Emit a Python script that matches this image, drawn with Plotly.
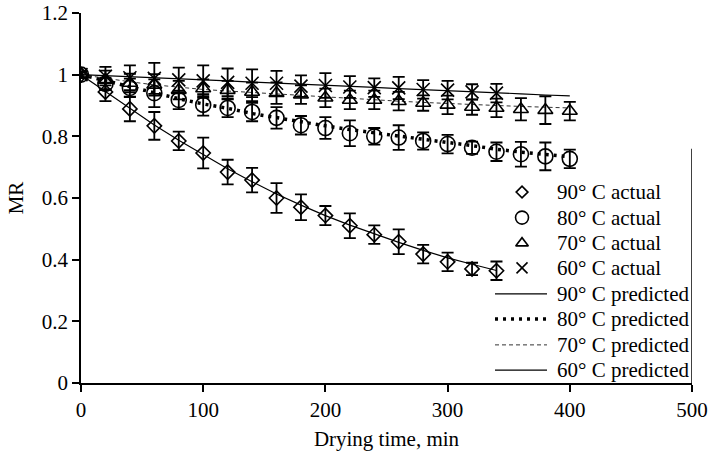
import plotly.graph_objects as go

# ---------------- data ----------------
t90 = [0, 20, 40, 60, 80, 100, 120, 140, 160, 180, 200, 220, 240, 260, 280, 300, 320, 340]
mr90 = [1.0, 0.944, 0.889, 0.834, 0.785, 0.746, 0.684, 0.658, 0.600, 0.570, 0.543, 0.510, 0.481, 0.458, 0.418, 0.393, 0.370, 0.364]
err90 = [0.01, 0.03, 0.04, 0.045, 0.03, 0.05, 0.04, 0.04, 0.048, 0.042, 0.031, 0.04, 0.03, 0.04, 0.03, 0.03, 0.02, 0.03]

t80 = [0, 20, 40, 60, 80, 100, 120, 140, 160, 180, 200, 220, 240, 260, 280, 300, 320, 340, 360, 380, 400]
mr80 = [1.0, 0.970, 0.957, 0.940, 0.918, 0.902, 0.892, 0.879, 0.860, 0.836, 0.827, 0.810, 0.800, 0.796, 0.785, 0.775, 0.763, 0.750, 0.742, 0.735, 0.727]
err80 = [0.01, 0.02, 0.03, 0.045, 0.03, 0.035, 0.03, 0.03, 0.035, 0.03, 0.035, 0.042, 0.027, 0.04, 0.028, 0.03, 0.02, 0.03, 0.04, 0.045, 0.03]

t70 = [0, 20, 40, 60, 80, 100, 120, 140, 160, 180, 200, 220, 240, 260, 280, 300, 320, 340, 360, 380, 400]
mr70 = [1.0, 0.983, 0.973, 0.967, 0.950, 0.955, 0.950, 0.944, 0.940, 0.935, 0.925, 0.918, 0.918, 0.914, 0.908, 0.902, 0.895, 0.892, 0.888, 0.885, 0.882]
err70 = [0.01, 0.03, 0.03, 0.035, 0.03, 0.03, 0.03, 0.03, 0.035, 0.03, 0.03, 0.03, 0.03, 0.03, 0.025, 0.03, 0.025, 0.03, 0.036, 0.045, 0.03]

t60 = [0, 20, 40, 60, 80, 100, 120, 140, 160, 180, 200, 220, 240, 260, 280, 300, 320, 340]
mr60 = [1.0, 0.995, 0.990, 0.988, 0.983, 0.980, 0.975, 0.972, 0.972, 0.963, 0.965, 0.960, 0.958, 0.957, 0.952, 0.950, 0.944, 0.940]
err60 = [0.01, 0.03, 0.04, 0.05, 0.04, 0.05, 0.045, 0.045, 0.04, 0.035, 0.04, 0.035, 0.03, 0.036, 0.03, 0.03, 0.025, 0.03]

tp = [0, 20, 40, 60, 80, 100, 120, 140, 160, 180, 200, 220, 240, 260, 280, 300, 320, 340, 360, 380, 400]
tp90 = tp[:18]
pred90 = [1.0, 0.945, 0.890, 0.837, 0.787, 0.740, 0.695, 0.653, 0.613, 0.577, 0.543, 0.512, 0.483, 0.456, 0.430, 0.406, 0.385, 0.365]
pred80 = [1.0, 0.980, 0.962, 0.942, 0.922, 0.905, 0.891, 0.874, 0.860, 0.846, 0.834, 0.822, 0.811, 0.800, 0.790, 0.780, 0.770, 0.758, 0.749, 0.741, 0.734]
pred70 = [1.0, 0.988, 0.977, 0.967, 0.959, 0.952, 0.947, 0.942, 0.938, 0.933, 0.928, 0.923, 0.918, 0.914, 0.910, 0.906, 0.903, 0.900, 0.897, 0.895, 0.892]
pred60 = [1.0, 0.997, 0.993, 0.990, 0.987, 0.983, 0.980, 0.976, 0.973, 0.969, 0.966, 0.962, 0.959, 0.955, 0.952, 0.948, 0.945, 0.941, 0.938, 0.934, 0.931]

legend_labels = ["90° C actual", "80° C actual", "70° C actual", "60° C actual",
                 "90° C predicted", "80° C predicted", "70° C predicted", "60° C predicted"]

FONT = "Liberation Serif, Times New Roman, DejaVu Serif, serif"

# styles
LINE90 = dict(color="black", width=1.2)
LINE80 = dict(color="black", width=3.5, dash="3px,5px")
LINE70 = dict(color="#333333", width=1, dash="4px,3px")
LINE60 = dict(color="black", width=1.2)
MK = {
    "90": dict(symbol="diamond-open", size=11),
    "80": dict(symbol="circle-open", size=15),
    "70": dict(symbol="triangle-up-open", size=13),
    "60": dict(symbol="x-thin-open", size=13),
}

fig = go.Figure()

# predicted lines
for xs, ys, ln, nm in [(tp90, pred90, LINE90, legend_labels[4]), (tp, pred80, LINE80, legend_labels[5]),
                       (tp, pred70, LINE70, legend_labels[6]), (tp, pred60, LINE60, legend_labels[7])]:
    fig.add_trace(go.Scatter(x=xs, y=ys, mode="lines", name=nm, line=ln, showlegend=False))

def actual(x, y, e, name, key):
    return go.Scatter(
        x=x, y=y, mode="markers", name=name, showlegend=False,
        marker=dict(symbol=MK[key]["symbol"], size=MK[key]["size"], color="black",
                    line=dict(color="black", width=1.6)),
        error_y=dict(type="data", array=e, visible=True, color="black",
                     thickness=1.8, width=6),
    )

fig.add_trace(actual(t60, mr60, err60, legend_labels[3], "60"))
fig.add_trace(actual(t70, mr70, err70, legend_labels[2], "70"))
fig.add_trace(actual(t80, mr80, err80, legend_labels[1], "80"))
fig.add_trace(actual(t90, mr90, err90, legend_labels[0], "90"))

# ---------------- hand-built legend (plot-area fraction coordinates) ----------------
row_y = [0.516, 0.447, 0.378, 0.311, 0.241, 0.173, 0.103, 0.035]
mk_x = 0.7218
ln_x0, ln_x1 = 0.6776, 0.7627
txt_x = 0.7758
for i, key in enumerate(["90", "80", "70", "60"]):
    fig.add_trace(go.Scatter(
        x=[mk_x], y=[row_y[i]], xaxis="x2", yaxis="y2", mode="markers", showlegend=False,
        hoverinfo="skip",
        marker=dict(symbol=MK[key]["symbol"], size=MK[key]["size"] - 2, color="black",
                    line=dict(color="black", width=1.6))))
for j, ln in enumerate([LINE90, LINE80, LINE70, LINE60]):
    i = 4 + j
    fig.add_trace(go.Scatter(
        x=[ln_x0, ln_x1], y=[row_y[i], row_y[i]], xaxis="x2", yaxis="y2", mode="lines",
        showlegend=False, hoverinfo="skip", line=ln))
for i, lab in enumerate(legend_labels):
    fig.add_annotation(x=txt_x, y=row_y[i], xref="paper", yref="paper", text=lab,
                       showarrow=False, xanchor="left", yanchor="middle",
                       font=dict(family=FONT, size=21, color="black"))

# partial right border of the plot area (beside the legend)
fig.add_shape(type="line", xref="x", yref="y", x0=500, x1=500, y0=0, y1=0.76,
              line=dict(color="black", width=1.5))

axis_common = dict(
    showline=True, linecolor="black", linewidth=1.6,
    ticks="outside", ticklen=7, tickwidth=1.5, tickcolor="black",
    showgrid=False, zeroline=False, mirror=False, automargin=False,
    ticklabeloverflow="allow",
    tickfont=dict(family=FONT, size=21, color="black"),
)

fig.update_layout(
    width=709, height=453,
    margin=dict(l=81, r=17, t=13, b=70),
    paper_bgcolor="white", plot_bgcolor="white",
    font=dict(family=FONT, size=21, color="black"),
    showlegend=False,
    xaxis=dict(range=[0, 500], dtick=100, tick0=0,
               title=dict(text="Drying time, min", font=dict(family=FONT, size=21), standoff=10),
               **axis_common),
    yaxis=dict(range=[0, 1.2], dtick=0.2, tick0=0,
               title=dict(text="MR", font=dict(family=FONT, size=21), standoff=12),
               **axis_common),
    xaxis2=dict(range=[0, 1], overlaying="x", visible=False, fixedrange=True),
    yaxis2=dict(range=[0, 1], overlaying="y", visible=False, fixedrange=True),
)

# remove the browser's default 8px body margin so the figure sits at the page origin
fig.write_html("out.html", config={"displayModeBar": False},
               post_script="document.body.style.margin='0';")
